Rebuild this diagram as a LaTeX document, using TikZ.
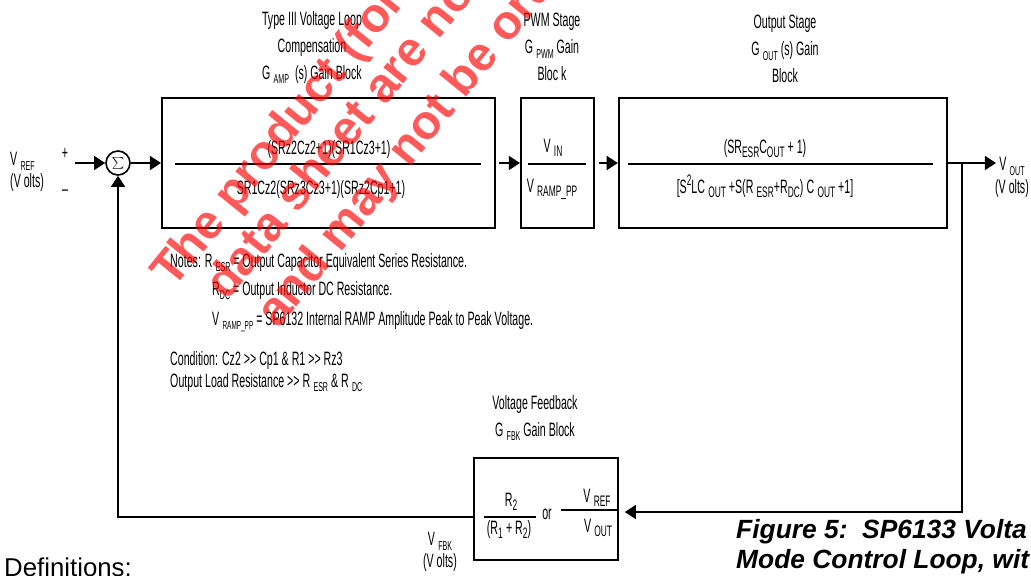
\documentclass[tikz,border=0pt]{standalone}
\usepackage{fontspec}
\setmainfont{Liberation Sans}[FakeStretch=0.55]
\newfontfamily\legendafont{Liberation Sans}
\newfontfamily\marcafont{Liberation Sans}
\usetikzlibrary{arrows.meta,positioning,calc}
\newcommand{\corpo}{\fontsize{16.5}{23}\selectfont}
\newcommand{\baixo}[2][11]{\raisebox{-4pt}{\fontsize{#1}{#1}\selectfont #2}}
\newcommand{\alto}[2][11]{\raisebox{6pt}{\fontsize{#1}{#1}\selectfont #2}}

\begin{document}
\begin{tikzpicture}[
    x=0.03cm, y=0.03cm,
    font=\corpo,
    bloco/.style={rectangle, draw, line width=1.6pt, inner sep=0pt},
    seta/.style={-{Triangle[length=9.5pt,width=12pt]}, line width=1.4pt},
    traco/.style={line width=1.3pt},
    rotulo/.style={inner sep=0pt, align=center},
    nota/.style={inner sep=0pt, anchor=base west},
    legenda/.style={nota, font=\legendafont\bfseries\itshape\fontsize{22.5}{22.5}\selectfont},
    marca/.style={inner sep=0pt, anchor=base west, rotate=51, text=red, text opacity=0.65,
        font=\marcafont\bfseries\fontsize{41}{41}\selectfont}
]
\path[use as bounding box] (0,0) rectangle (1031,-575);
\clip (0,0) rectangle (1031,-575);

% Blocos
\node[bloco, minimum width=9.99cm, minimum height=3.9cm] (amp) at (328.5,-163) {};
\node[bloco, minimum width=2.19cm, minimum height=3.9cm, right=0.72cm of amp] (pwm) {};
\node[bloco, minimum width=9.84cm, minimum height=3.9cm, right=0.69cm of pwm] (gout) {};
\node[bloco, minimum width=4.32cm, minimum height=3.06cm] (fbk) at (546,-509) {};
\node[circle, draw, line width=1.4pt, minimum size=0.72cm, inner sep=0pt] (soma) at (118,-163)
    {\fontsize{17}{17}\selectfont$\sum$};

% Titulos
\node[rotulo, anchor=north] (tit-amp) at (312,-11)
    {Type III Voltage Loop\\Compensation\\G\,\baixo{AMP}\ \ (s) Gain Block};
\node[rotulo, anchor=north] (tit-pwm) at (552,-13) {PWM Stage\\G\,\baixo{PWM} Gain\\Bloc k};
\node[rotulo, anchor=north] (tit-out) at (785,-15) {Output Stage\\G\,\baixo{OUT} (s) Gain\\Block};
\node[rotulo, anchor=north] (tit-fbk) at (535,-395) {Voltage Feedback\\G\,\baixo{FBK} Gain Block};

% Funcoes de transferencia
\node[rotulo, anchor=base] (amp-num) at (329,-154) {(SRz2Cz2+1)(SR1Cz3+1)};
\node[rotulo, anchor=base] (amp-den) at (321,-194) {SR1Cz2(SRz3Cz3+1)(SRz2Cp1+1)};
\draw[traco] ($(amp.west)+(14,-1)$) -- ($(amp.east)+(-15,-1)$);

\node[rotulo, anchor=base] (pwm-num) at (553,-152) {V\,\baixo[13]{IN}};
\node[rotulo, anchor=base] (pwm-den) at (552,-192) {V\,\baixo[13]{RAMP\_PP}};
\draw[traco] ($(pwm.west)+(8,-1)$) -- ($(pwm.east)+(-9,-1)$);

\node[rotulo, anchor=base] (out-num) at (765,-153) {(SR\baixo[13]{ESR}C\baixo[13]{OUT} + 1)};
\node[rotulo, anchor=base] (out-den) at (765,-193)
    {[S\alto[13]{2}LC\,\baixo[13]{OUT} +S(R\,\baixo[13]{ESR}+R\baixo[13]{DC})\,C\,\baixo[13]{OUT} +1]};
\draw[traco] ($(gout.west)+(10,-1)$) -- ($(gout.east)+(-15,-1)$);

\node[rotulo, anchor=base] (fbk-r2) at (511,-506) {R\baixo[13]{2}};
\node[rotulo, anchor=base] (fbk-r12) at (509,-534) {(R\baixo[13]{1}\,+ R\baixo[13]{2})};
\node[rotulo] (fbk-ou) at (547,-514) {or};
\node[rotulo, anchor=base] (fbk-ref) at (597,-502) {V\,\baixo[13]{REF}};
\node[rotulo, anchor=base] (fbk-out) at (598,-532) {V\,\baixo[13]{OUT}};
\draw[traco] ($(fbk.west)+(11,-8)$) -- ($(fbk.west)+(63,-8)$);
\draw[traco] ($(fbk.east)+(-58,-1)$) -- ($(fbk.east)+(-1,-1)$);

% Sinais
\node[rotulo, anchor=north west, align=left] (vref) at (10,-152) {V\,\baixo{REF}\\[-4pt](V olts)};
\node[rotulo] (mais) at (65,-154) {+};
\node[rotulo] (menos) at (65,-193) {--};
\node[rotulo, anchor=north] (vout) at (1012,-157) {V\,\baixo{OUT}\\[-3pt](V olts)};
\node[rotulo, anchor=north] (vfbk) at (440,-532) {V\,\baixo{FBK}\\[-4pt](V olts)};

% Conexoes
\coordinate (entrada) at (75,-163);
\coordinate (saida) at (996,-163);
\coordinate (deriv) at (962,-163);
\draw[seta] (entrada) -- (soma);
\draw[seta] (soma) -- (amp);
\draw[seta, shorten <=2.5pt] (amp) -- (pwm);
\draw[seta, shorten <=3.5pt] (pwm) -- (gout);
\draw[seta] (gout) -- (saida);
\draw[seta, shorten >=5pt] (deriv) |- ($(fbk.east)+(0,-3)$);
\draw[seta] ($(fbk.west)+(0,-8)$) -| (soma);

% Notas
\node[nota] (nota1) at (170,-267) {Notes: R\,\baixo{ESR} = Output Capacitor Equivalent Series Resistance.};
\node[nota] (nota2) at (212,-295) {R\baixo{DC} = Output Inductor DC Resistance.};
\node[nota] (nota3) at (212,-325) {V\,\baixo[10]{RAMP\_PP} = SP6132 Internal RAMP Amplitude Peak to Peak Voltage.};
\node[nota] (cond1) at (170,-365) {Condition: Cz2 >{}> Cp1 \& R1 >{}> Rz3};
\node[nota] (cond2) at (170,-387) {Output Load Resistance >{}> R\,\baixo{ESR} \& R\,\baixo{DC}};

% Legenda
\node[nota, font=\legendafont\fontsize{22}{22}\selectfont] (defs) at (4,-576) {Definitions:};
\node[legenda] (fig1) at (736,-538) {Figure 5:\ \ SP6133 Volta};
\node[legenda] (fig2) at (736,-568) {Mode Control Loop, wit};

% Marca d'agua
\node[marca] (marca1) at (173,-290) {The product (for th};
\node[marca] (marca2) at (227,-302) {data sheet are no};
\node[marca] (marca3) at (278,-330) {and may not be ord};

\end{tikzpicture}
\end{document}
